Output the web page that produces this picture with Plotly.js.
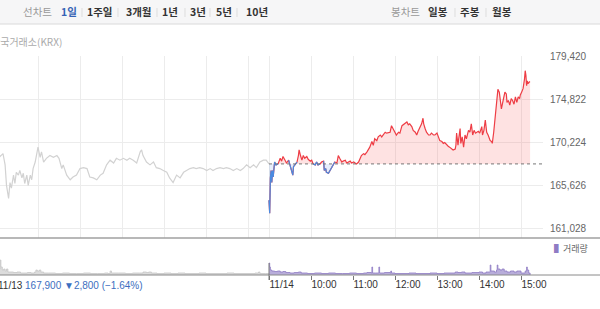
<!DOCTYPE html>
<html><head><meta charset="utf-8">
<script src="https://cdn.plot.ly/plotly-3.0.1.min.js"></script>
<style>html,body{margin:0;padding:0;background:#fff;}#chart{width:600px;height:309px;}</style>
</head><body><div id="chart"></div>
<script>
// ---- data ----
const prevClose = 167900;
const dayOffset = 390; // minutes in 11/13 session (09:00-15:30)
// 11/13: minutes after 09:00, price
const t13 = [0,3,6,10,13,15,18,20,22,25,27,29,32,34,37,39,41,44,46,49,51,53,56,58,60,63,65,68,72,77,82,87,90,94,96,101,106,110,115,120,125,130,134,139,144,149,153,158,163,168,172,177,182,187,191,196,201,206,208,210,215,220,225,229,234,239,244,248,253,258,263,268,272,277,282,286,291,296,301,306,310,315,320,325,329,334,339,344,349,353,358,363,368,372,377,382,386,390];
const p13 = [168400,169000,168700,169000,167800,165600,164200,165900,165300,166700,165800,167000,166700,167200,166400,166900,165800,166700,165600,166700,166200,167400,168100,168800,169700,168600,169200,168100,168500,168800,168600,168800,168500,167400,167800,166700,166200,166500,166700,167400,167500,167400,166500,166400,166200,166700,166900,167800,168300,168000,168500,168300,168500,168300,168500,168300,168000,169200,169400,168800,168100,167800,168100,167500,167400,167200,167000,166400,165900,166700,166400,167000,167200,167400,167500,167400,167500,167400,167200,167400,167200,167400,167500,167400,167500,167400,167200,167400,167200,167400,167800,167500,167800,167500,168100,168300,168300,167900];
// 11/14: minutes after 09:00, price
const t14 = [0,1,2,3,4,5,6,7,8,10,13,16,18,20,23,25,28,30,32,34,35,37,40,42,43,45,47,49,51,54,56,59,61,63,66,68,70,73,75,78,79,81,82,85,87,90,92,94,97,99,101,104,106,109,111,113,116,118,121,123,125,128,130,132,135,137,140,142,144,147,149,151,154,156,159,161,163,166,168,171,173,175,178,180,182,185,187,190,192,194,197,199,201,204,206,209,211,213,216,218,220,221,223,225,228,230,232,235,237,240,242,244,247,249,251,254,256,258,261,263,266,267,268,270,271,273,274,276,278,280,282,285,287,289,291,293,295,297,299,301,304,305,307,309,311,313,316,318,319,321,323,325,327,329,331,332,335,337,339,340,342,344,346,348,350,352,354,356,358,359,361,363,365,366,367,368,369,370,372,373];
const p14 = [164000,162600,166400,167200,165900,167200,166500,167400,168100,167800,167900,168500,168200,168700,168200,168000,168300,167800,167200,166700,167600,167800,168100,168800,169400,168800,168300,168800,168500,168700,168400,168200,168300,167900,167800,168100,167800,167900,168100,168200,167200,167400,167000,166900,167200,167500,167800,168100,168000,168800,168500,168100,168200,168300,168000,168100,168200,168000,168100,168000,167900,168100,168500,168800,169000,168900,169200,169400,169700,170300,169900,170600,170400,170800,171000,170800,171000,171300,171200,171300,171300,172000,171500,171200,171000,171300,171200,172000,172100,172200,172400,172100,172200,171900,171500,171300,171000,171400,171900,172200,172800,172200,171700,171300,171000,171000,171200,171000,171000,171200,170800,170400,170300,170100,170200,169900,169800,169700,169500,169400,169500,169900,171200,169900,170600,171700,170100,170800,169700,171000,170600,171500,171300,172200,171000,171500,171200,171300,171400,171200,171900,171000,171500,172600,171300,171000,170400,170300,170100,171300,173100,174900,175900,175600,174500,173800,174900,175600,175400,174500,174700,174200,174900,174700,174300,175100,174500,175100,174900,175300,175600,176000,177000,177900,177400,176300,176800,176500,176700,176700];
// volume (arbitrary units)
const vt13 = [0,1,2,3,4,6,7,9,11,13,15,17,20,25,30,35,40,45,50,55,57,59,62,64,68,75,85,95,105,115,125,135,145,155,160,163,165,175,185,195,205,210,215,218,222,230,240,250,260,270,280,290,300,310,320,330,340,350,360,370,375,377,385,390];
const vv13 = [14,16,8,12,6,15,8,5,6,4,6,3,3,2.5,3,2,2,2.5,2,3,5,4,5,3,2,2,1.5,2,1.5,1.5,2,1.5,1.5,2,1.5,4,2,2,1.5,2,2,3,2.5,3,2,1.5,2,1.5,2,1.5,1.5,2,1.5,1.5,1.5,2,1.5,1.5,1.5,2,3,1.5,1.5,0];
const vt14 = [0,1,2,4,8,12,16,20,24,30,36,42,46,55,65,75,85,95,105,115,125,135,140,146,147,148,152,156,157,158,165,173,174,175,180,190,200,210,220,230,240,250,260,266,270,275,280,290,300,305,310,315,316,317,322,325,326,327,330,333,336,340,345,350,353,354,360,366,368,369,371,373];
const vv14 = [12,8,5,4,3.5,4,3,3.5,2.5,2,2.5,3,2,1.5,2,1.5,2,1.5,1.5,2,1.5,2,2.5,2,8,2,2,2,8,2,2.5,2,4,2,1.5,1.5,2,1.5,1.5,2,1.5,2,2,3,2.5,3,2,2.5,3,2,3,3,10,4,3,5,10,6,5,6,4,3,4,3,3,4,2,4,8,5,2,0];
// axis ticks / labels
const yTickVals = [161028,165626,170224,174822,179420];
const yTickText = ['161,028','165,626','170,224','174,822','179,420'];
const gridMin = [60,120,180,240,300,360,390,450,510,570,630,690,750];
const xTickMin = [390,450,510,570,630,690,750];
const xTickText = ['11/14','10:00','11:00','12:00','13:00','14:00','15:00'];
const periodTabs = ['1일','1주일','3개월','1년','3년','5년','10년'];
const candleTabs = ['일봉','주봉','월봉'];

// ---- layout helpers ----
const W = 600, H = 309, PW = 543;
const px = x => x / PW;
const py = y => 1 - y / H;
const XR = [(0 + 4) / 0.7, (PW + 4) / 0.7];

const x14 = t14.map(t => t + dayOffset);
const up = p14.map(v => Math.max(v, prevClose));
const dn = p14.map(v => Math.min(v, prevClose));
const base = p14.map(() => prevClose);
const blue = p14.map((v, i) => (v < prevClose || (i > 0 && p14[i-1] < prevClose) || (i < p14.length-1 && p14[i+1] < prevClose)) ? v : null);

const numFont = 'Liberation Sans, Arial, Noto Sans CJK KR, sans-serif';
const krFont = 'Noto Sans CJK KR, sans-serif';

const traces = [
  {x: t13, y: p13, type: 'scatter', mode: 'lines', line: {color: '#d2d2d2', width: 1.2}, hoverinfo: 'skip'},
  {x: x14, y: base, type: 'scatter', mode: 'lines', line: {width: 0}, hoverinfo: 'skip'},
  {x: x14, y: up, type: 'scatter', mode: 'lines', line: {width: 0}, fill: 'tonexty', fillcolor: 'rgba(248,110,110,0.2)', hoverinfo: 'skip'},
  {x: x14, y: base, type: 'scatter', mode: 'lines', line: {width: 0}, hoverinfo: 'skip'},
  {x: x14, y: dn, type: 'scatter', mode: 'lines', line: {width: 0}, fill: 'tonexty', fillcolor: 'rgba(90,140,230,0.15)', hoverinfo: 'skip'},
  {x: x14, y: p14, type: 'scatter', mode: 'lines', line: {color: '#ee3d45', width: 1.2}},
  {x: x14, y: blue, type: 'scatter', mode: 'lines', line: {color: '#4a8ae0', width: 1.2}, connectgaps: false},
  {x: vt13, y: vv13, xaxis: 'x2', yaxis: 'y2', type: 'scatter', mode: 'lines', line: {color: '#c6c6c6', width: 0.8, shape: 'hv'}, fill: 'tozeroy', fillcolor: '#dcdcdc'},
  {x: vt14.map(t => t + dayOffset), y: vv14, xaxis: 'x2', yaxis: 'y2', type: 'scatter', mode: 'lines', line: {color: '#8f7cc4', width: 0.8, shape: 'hv'}, fill: 'tozeroy', fillcolor: 'rgba(160,145,205,0.75)'}
];

const annotations = [];
const tabX = [68.5, 100, 138.5, 170, 198, 224, 257];
annotations.push({xref: 'paper', yref: 'paper', x: px(37.5), y: py(12), text: '선차트', showarrow: false, xanchor: 'center', yanchor: 'middle', font: {family: krFont, size: 10.5, color: '#999'}});
periodTabs.forEach((t, i) => annotations.push({xref: 'paper', yref: 'paper', x: px(tabX[i]), y: py(12), text: '<b>' + t + '</b>', showarrow: false, xanchor: 'center', yanchor: 'middle', font: {family: krFont, size: 10.5, color: i === 0 ? '#3563b5' : '#333'}}));
annotations.push({xref: 'paper', yref: 'paper', x: px(405), y: py(12), text: '봉차트', showarrow: false, xanchor: 'center', yanchor: 'middle', font: {family: krFont, size: 10.5, color: '#999'}});
const candX = [438, 470, 502];
candleTabs.forEach((t, i) => annotations.push({xref: 'paper', yref: 'paper', x: px(candX[i]), y: py(12), text: '<b>' + t + '</b>', showarrow: false, xanchor: 'center', yanchor: 'middle', font: {family: krFont, size: 10.5, color: '#333'}}));
annotations.push({xref: 'paper', yref: 'paper', x: px(64), y: py(42), text: '한국거래소(KRX)', showarrow: false, xanchor: 'right', yanchor: 'middle', font: {family: krFont, size: 10, color: '#aaa'}});
annotations.push({xref: 'paper', yref: 'paper', x: px(590), y: py(248), text: '<span style="color:#8f7cc4">▌</span>거래량', showarrow: false, xanchor: 'right', yanchor: 'middle', font: {family: krFont, size: 9, color: '#666'}});
annotations.push({xref: 'paper', yref: 'paper', x: px(-4), y: py(285), text: '11/13 <span style="color:#3c6ec0">167,900 ▼2,800 (−1.64%)</span>', showarrow: false, xanchor: 'left', yanchor: 'middle', font: {family: numFont, size: 10, color: '#333'}});

const shapes = [
  {type: 'rect', xref: 'paper', yref: 'paper', x0: 0, x1: W / PW, y0: py(24), y1: 1, fillcolor: '#f6f6f7', line: {width: 0}, layer: 'below'},
  {type: 'line', xref: 'paper', yref: 'paper', x0: 0, x1: W / PW, y0: py(24), y1: py(24), line: {color: '#dadada', width: 1}},
  {type: 'line', xref: 'paper', yref: 'paper', x0: 0, x1: W / PW, y0: py(238), y1: py(238), line: {color: '#a0a0a0', width: 1.5}},
  {type: 'line', xref: 'paper', yref: 'paper', x0: 0, x1: W / PW, y0: py(275), y1: py(275), line: {color: '#8a8a8a', width: 1}},
  {type: 'line', xref: 'x', yref: 'y', x0: dayOffset, x1: XR[1], y0: prevClose, y1: prevClose, line: {color: '#777', width: 1, dash: 'dot'}},
  {type: 'line', xref: 'x2', yref: 'paper', x0: dayOffset, x1: dayOffset, y0: py(263), y1: py(280), line: {color: '#777', width: 1}}
];
[82, 118, 157, 185, 210, 237, 455, 486].forEach(x => shapes.push({type: 'line', xref: 'paper', yref: 'paper', x0: px(x), x1: px(x), y0: py(8), y1: py(17), line: {color: '#dddddd', width: 1}}));

const layout = {
  width: W, height: H, autosize: false,
  margin: {l: 0, r: W - PW, t: 0, b: 0, pad: 0},
  paper_bgcolor: '#fff', plot_bgcolor: 'rgba(0,0,0,0)',
  showlegend: false,
  xaxis: {domain: [0, 1], range: XR, anchor: 'y', tickvals: gridMin, showticklabels: false, ticks: '', showgrid: true, gridcolor: '#ececec', gridwidth: 1, zeroline: false, showline: false, fixedrange: true},
  yaxis: {domain: [py(238), py(56)], range: [159955, 179474], side: 'right', anchor: 'x', tickvals: yTickVals, ticktext: yTickText, showgrid: true, gridcolor: '#ececec', zeroline: false, showline: false, ticks: '', ticklabelstandoff: 6, tickfont: {family: numFont, size: 10, color: '#666'}, fixedrange: true},
  xaxis2: {domain: [0, 1], range: XR, anchor: 'y2', tickvals: xTickMin, ticktext: xTickText, ticks: 'outside', ticklen: 4, tickcolor: '#777', ticklabelposition: 'outside right', showgrid: false, zeroline: false, showline: false, tickfont: {family: numFont, size: 10, color: '#333'}, fixedrange: true},
  yaxis2: {domain: [py(275), py(245)], range: [0, 30], anchor: 'x2', visible: false, fixedrange: true},
  annotations: annotations,
  shapes: shapes,
  font: {family: numFont}
};

Plotly.newPlot('chart', traces, layout, {displayModeBar: false, staticPlot: true});
</script>
</body></html>
